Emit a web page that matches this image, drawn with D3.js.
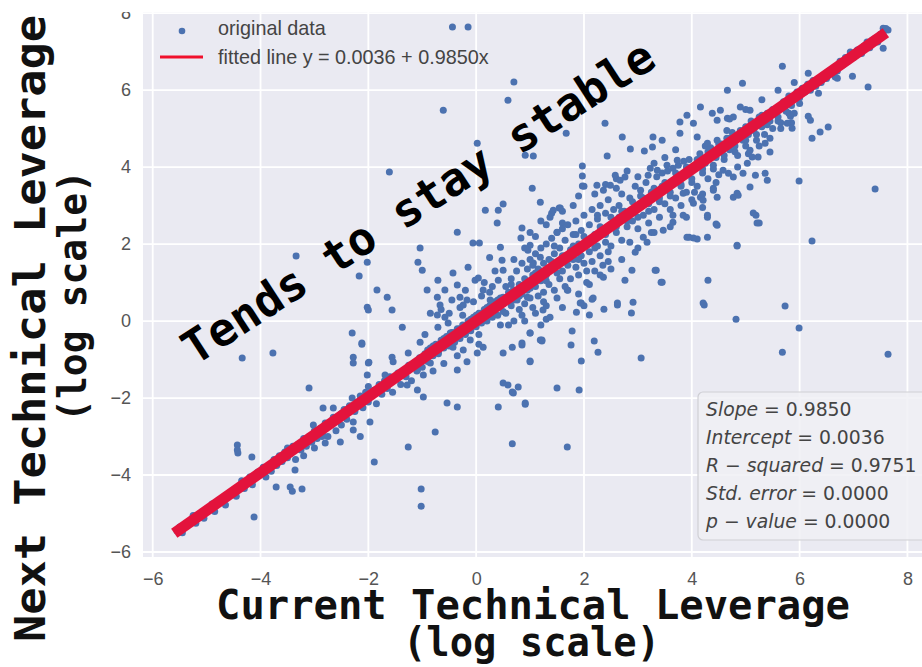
<!DOCTYPE html>
<html>
<head>
<meta charset="utf-8">
<script src="https://cdn.jsdelivr.net/npm/d3@7"></script>
<style>
  body { margin: 0; background: #fff; }
  svg { display: block; }
</style>
</head>
<body>
<div id="container"></div>
<script>
const w = 922;
const h = 667;

const xTicks = [-6, -4, -2, 0, 2, 4, 6, 8];
const yTicks = [-6, -4, -2, 0, 2, 4, 6, 8];

const fitIntercept = 0.0036;
const fitSlope = 0.9850;
const fitRange = [-5.6, 7.6];

const statNames = [["Slope"], ["Intercept"], ["R", "squared"], ["Std. error"], ["p", "value"]];
const statValues = ["0.9850", "0.0036", "0.9751", "0.0000", "0.0000"];

const legendLabels = ["original data", "fitted line y = 0.0036 + 0.9850x"];

// points scattered away from the main band
const outlierPoints = [
  [-0.44,7.64],[-0.15,7.64],[-0.61,5.48],[0.70,6.21],[0.59,5.74],[-1.61,3.87],[1.67,4.88],[2.39,5.14],
  [2.71,4.78],[0.91,4.31],[1.06,4.29],[0.02,4.62],[5.68,6.62],[4.66,6.0],[4.94,6.18],[7.27,6.08],
  [7.40,3.43],[6.53,5.04],[6.38,4.91],[6.23,4.75],[5.99,3.64],[1.97,4.03],[1.97,3.77],[1.97,3.51],
  [2.24,3.53],[2.43,4.29],[1.04,3.45],[6.23,2.08],[4.84,1.95],[5.19,2.75],[5.25,2.55],[4.45,2.52],
  [4.29,2.75],[3.95,2.18],[4.10,2.13],[4.29,2.18],[4.30,1.06],[3.34,1.32],[3.43,1.01],[4.23,0.42],
  [5.73,0.39],[4.82,0.05],[5.99,-0.18],[5.68,-0.81],[7.64,-0.86],[3.06,-0.96],[2.91,0.49],[2.88,0.21],
  [2.62,0.42],[2.37,0.31],[2.15,0.57],[1.95,0.47],[1.86,0.23],[2.10,0.16],[2.19,-0.52],[2.26,-0.81],
  [1.95,-1.04],[1.76,-0.62],[1.78,-0.26],[1.50,-1.74],[1.91,-1.79],[1.22,-0.52],[1.00,-0.31],[1.00,-1.04],
  [0.85,-0.62],[0.67,-0.68],[0.50,-0.83],[0.59,-1.66],[0.78,-1.71],[0.69,-1.87],[1.30,0.05],[0.41,-2.23],
  [0.91,-2.16],[0.67,-3.19],[1.69,-3.27],[-3.34,1.69],[-2.02,1.53],[-2.17,1.17],[-1.84,0.81],[-1.65,0.62],
  [-1.56,0.29],[-2.02,0.36],[-2.0,0.29],[-1.04,1.90],[-1.08,1.53],[-1.0,1.32],[-0.35,2.31],[-1.37,-0.16],
  [-2.30,-0.31],[-2.12,-0.60],[-2.28,-0.94],[-2.28,-1.09],[-2.0,-1.09],[-4.34,-0.96],[-3.77,-0.83],[-3.10,-1.74],
  [-4.43,-3.22],[-4.42,-3.43],[-4.43,-3.35],[-4.16,-3.53],[-4.12,-5.09],[-3.71,-4.31],[-3.45,-4.31],[-3.41,-4.42],
  [-3.23,-4.36],[-3.36,-3.87],[-1.89,-3.66],[-1.26,-3.27],[-0.76,-2.88],[-1.02,-4.36],[-1.02,-4.81],
  [-2.84,-2.26],[-2.65,-2.26],[-3.02,-2.7],[-2.86,-3.0],[-2.8,-3.17],[-2.52,-3.14],[-2.28,-2.62],[-2.28,-2.83],
  [-2.15,-3.0],[-1.97,-2.62]
];

// lower-left part of the band
const bandLow = [
  [-5.55,-5.45],[-5.5,-5.35],[-5.45,-5.5],[-5.4,-5.3],[-5.3,-5.2],[-5.25,-5.05],[-5.2,-5.25],[-5.1,-5.0],
  [-5.05,-5.12],[-4.95,-4.9],[-4.9,-4.75],[-4.85,-4.95],[-4.8,-4.7],[-4.7,-4.62],[-4.65,-4.78],[-4.6,-4.5],
  [-4.5,-4.42],[-4.45,-4.55],[-4.4,-4.3],[-4.35,-4.15],[-4.3,-4.35],[-4.25,-4.2],[-4.2,-4.05],[-4.15,-4.25],
  [-4.1,-4.0],[-4.05,-3.92],[-4.0,-3.9],[-3.95,-3.8],[-3.9,-4.05],[-3.85,-3.75],[-3.8,-3.9],[-3.75,-3.6],
  [-3.7,-3.75],[-3.65,-3.5],[-3.6,-3.65],[-3.55,-3.4],[-3.5,-3.55],[-3.5,-3.3],[-3.45,-3.45],[-3.4,-3.25],
  [-3.35,-3.6],[-3.3,-3.2],[-3.25,-3.35],[-3.2,-3.05],[-3.2,-3.5],[-3.15,-3.25],[-3.1,-3.0],[-3.05,-3.15],
  [-3.0,-2.85],[-3.0,-3.3],[-2.95,-3.05],[-2.9,-2.8],[-2.85,-2.95],[-2.8,-2.65],[-2.75,-3.0],[-2.7,-2.7],
  [-2.65,-2.5],[-2.6,-2.85],[-2.55,-2.55],[-2.5,-2.4],[-2.5,-2.7],[-2.45,-2.3],[-2.4,-2.55],[-2.35,-2.2],
  [-2.3,-2.0],[-2.25,-2.35],[-2.2,-2.1],[-2.15,-1.95],[-2.1,-2.25],[-2.05,-1.85],[-2.0,-2.1],[-2.0,-1.7],
  [-1.95,-1.95],[-1.9,-1.8],[-1.85,-2.15],[-1.8,-1.65],[-1.75,-1.9],[-1.7,-1.55],[-1.65,-1.75],[-1.6,-1.45],
  [-1.55,-1.85],[-1.5,-1.5],[-1.45,-1.35],[-1.4,-1.65],[-1.35,-1.3],[-1.3,-1.45],[-1.25,-1.15],[-1.2,-1.55],
  [-1.15,-1.1],[-1.1,-1.3],[-1.05,-0.95],[-1.0,-1.2],[-2.12,-0.57],[-1.99,-1.07],[-2.02,-1.40],[-1.69,-1.40],
  [-1.56,-0.94],[-1.54,-1.06],[-1.26,-0.83],[-1.47,-1.45],[-1.28,-1.66],[-1.09,-1.27],[-0.98,-1.40],[-0.85,-1.09],
  [-1.04,-0.55],[-1.09,-1.79],[-0.98,-1.97],[-0.54,-2.13],[-0.35,-2.23]
];

// middle part of the band, the widest spread
const bandMid = [
  [-0.95,-0.85],[-0.9,-1.05],[-0.85,-0.7],[-0.8,-0.9],[-0.75,-0.6],[-0.7,-0.85],[-0.65,-0.5],[-0.6,-0.7],
  [-0.55,-0.4],[-0.5,-0.65],[-0.45,-0.3],[-0.4,-0.55],[-0.35,-0.2],[-0.3,-0.45],[-0.25,-0.1],[-0.2,-0.35],
  [-0.15,0.0],[-0.1,-0.25],[-0.05,0.1],[0.0,-0.15],[0.05,0.2],[0.1,-0.05],[0.15,0.3],[0.2,0.0],
  [0.25,0.4],[0.3,0.1],[0.35,0.5],[0.4,0.15],[0.45,0.6],[0.5,0.25],[-0.5,0.2],[-0.3,0.35],
  [0.1,0.65],[0.3,0.9],[-0.2,0.8],[-0.71,1.06],[-0.91,0.81],[-0.58,0.81],[-0.72,0.62],[-0.67,0.42],
  [-0.35,0.94],[-0.43,1.25],[-0.72,0.16],[-0.58,0.10],[-0.71,-0.16],[-0.52,-0.05],[-0.48,-0.31],[-0.30,0.62],
  [-0.17,0.55],[-0.24,0.42],[-0.02,1.06],[0.04,1.12],[-0.06,2.03],[0.06,2.03],[0.17,2.88],[0.41,2.88],
  [0.50,3.04],[0.39,2.55],[0.45,1.92],[0.48,1.58],[0.50,1.32],[0.41,1.06],[0.13,0.81],[0.26,0.55],
  [0.20,0.29],[0.39,0.36],[0.50,0.62],[-0.43,-0.68],[-0.24,-0.75],[-0.17,-1.06],[0.02,-0.83],[0.13,-0.68],
  [-0.35,-1.27],[-0.11,-0.49],[0.50,-1.61],[0.67,-1.84],[0.85,-0.57],[1.0,-1.06],[0.91,-2.13],[1.22,-0.49],
  [1.0,1.97],[1.19,3.09],[1.54,2.94],[0.85,2.42],[0.83,2.16],[1.37,2.70],[0.96,1.84],[1.19,1.66],
  [1.06,1.51],[1.50,2.31],[1.60,2.55],[0.69,0.81],[0.76,0.55],[0.95,0.62],[1.0,-0.31],[1.19,-0.49],
  [1.24,0.29],[1.37,0.10],
  [0.55,0.9],[0.55,0.2],[0.6,0.55],[0.6,-0.1],[0.65,1.1],[0.65,0.4],[0.7,0.75],[0.7,0.0],
  [0.75,1.3],[0.75,0.6],[0.8,0.95],[0.8,0.3],[0.85,1.5],[0.85,0.7],[0.9,1.1],[0.9,0.45],
  [0.95,1.35],[0.95,0.8],[1.0,1.6],[1.0,0.6],[1.05,1.2],[1.05,0.35],[1.1,1.75],[1.1,0.9],
  [1.15,1.35],[1.15,0.65],[1.2,1.9],[1.2,1.05],[1.25,1.5],[1.25,0.75],[1.3,2.0],[1.3,1.2],
  [1.35,1.6],[1.35,0.95],[1.4,2.15],[1.4,1.35],[1.45,1.75],[1.45,0.8],[1.5,2.3],[1.5,1.5],
  [1.55,1.1],[1.55,1.9],[1.6,2.4],[1.6,1.3],[1.65,1.7],[1.65,2.1],[1.7,1.45],[1.7,2.5],
  [1.75,1.85],[1.75,1.1],[1.8,2.25],[1.8,1.6],[1.85,2.6],[1.85,1.4],[1.9,2.0],[1.9,1.2],
  [1.95,2.35],[1.95,1.7],[2.0,2.75],[2.0,1.5],[2.05,2.1],[2.05,1.0],[2.1,2.5],[2.1,1.8],
  [2.15,2.9],[2.15,1.55],[2.2,2.25],[2.2,1.3],[2.25,2.65],[2.25,1.95],[2.3,3.0],[2.3,1.7],
  [2.35,2.4],[2.35,1.45],[2.4,2.8],[2.4,2.05],[2.45,3.15],[2.45,1.8],[2.5,2.5],[2.5,1.95],
  [0.7,1.6],[0.9,1.9],[1.1,2.2],[1.3,2.5],[1.4,2.8],[1.2,2.6],[1.0,2.3],[1.6,2.85],
  [1.8,3.0],[1.9,3.25],[2.0,3.5],[2.2,3.3],[2.4,3.55],[2.6,3.45],[0.9,0.0],[1.1,0.2],
  [1.3,0.4],[1.5,0.6],[1.7,0.8],[1.9,0.7],[2.1,0.95],[2.3,1.2],[2.5,1.35],[1.2,-0.1],
  [1.6,0.35],[2.0,0.4],[1.43,2.88],[1.56,2.94],[2.36,1.14],[2.17,0.60],[1.93,0.47],[1.69,0.81]
];

// points lying close to the fitted line
const bandCore = [
  [-0.9,-0.75],[-0.8,-0.65],[-0.7,-0.8],[-0.6,-0.45],[-0.5,-0.55],[-0.4,-0.3],[-0.3,-0.2],[-0.2,-0.3],
  [-0.1,0.05],[0.0,0.15],[0.1,0.2],[0.2,0.35],[0.3,0.25],[0.4,0.55],[0.5,0.45],[0.6,0.75],
  [0.7,0.55],[0.8,0.65],[0.9,0.95],[1.0,0.85],[1.1,1.25],[1.2,1.3],[1.3,1.05],[1.4,1.55],
  [1.5,1.25],[1.6,1.7],[1.7,1.6],[1.8,1.95],[1.9,1.6],[2.0,2.2],[2.1,2.05],[2.2,1.9],
  [2.3,2.45],[2.4,2.25],[2.5,2.7],[2.6,2.45],[2.7,2.85],[2.8,2.6],[2.9,3.1],[3.0,2.7],
  [3.1,3.2],[3.2,2.85],[3.3,3.45],[3.4,3.1],[3.5,3.6],[3.6,3.25],[3.7,3.85],[3.8,3.55],
  [3.9,4.0],[4.0,3.6],[4.1,4.2],[4.2,3.95],[4.3,4.4],[4.4,4.05],[4.5,4.6],[4.6,4.2],
  [4.7,4.75],[4.8,4.4],[4.9,4.85],[5.0,4.7],[5.1,5.1],[5.2,4.85],[5.3,5.35],[5.4,5.1],
  [5.5,5.5],[5.6,5.2],[5.7,5.6],[5.8,5.4],[5.9,5.85],[6.0,5.65],
  [0.05,-0.35],[0.25,0.75],[0.45,-0.1],[0.65,0.95],[0.85,0.15],[1.05,1.45],[1.25,0.5],[1.45,1.95],
  [1.65,0.9],[1.85,2.25],[2.05,1.3],[2.25,2.75],[2.45,1.55],[2.65,3.0],[2.85,2.05],[3.05,3.4],
  [3.25,2.3],[3.45,3.85],[3.65,2.75],[3.85,4.15],[4.05,3.35],[4.25,4.55],[4.45,3.6],[4.65,4.95],
  [4.85,4.0],[5.05,4.35],[5.25,4.55],[5.45,4.75],[5.65,5.0],[5.85,5.15],
  [-0.95,-0.35],[-0.85,0.2],[-0.65,0.3],[-0.45,0.55],[-0.25,0.15],[-0.05,0.5],[0.15,1.0],[0.35,1.3],
  [-0.15,1.4],[0.25,1.65],[0.05,-0.6],[-0.35,-0.9],[-0.6,-1.1],[-0.8,-1.3]
];

// upper part of the band
const bandHigh = [
  [2.55,2.9],[2.6,2.3],[2.65,2.7],[2.7,3.3],[2.7,2.1],[2.75,2.85],[2.8,2.45],[2.85,3.2],
  [2.9,2.6],[2.95,3.5],[3.0,2.95],[3.0,2.4],[3.05,3.25],[3.1,2.75],[3.15,3.6],[3.2,3.05],
  [3.2,2.55],[3.25,3.35],[3.3,2.9],[3.35,3.75],[3.4,3.2],[3.4,2.7],[3.45,3.5],[3.5,3.05],
  [3.55,3.9],[3.6,3.35],[3.6,2.9],[3.65,3.65],[3.7,3.2],[3.75,4.05],[3.8,3.5],[3.8,3.0],
  [3.85,3.8],[3.9,3.35],[3.95,4.2],[4.0,3.7],[4.0,3.15],[4.05,3.95],[4.1,3.5],[4.15,4.35],
  [4.2,3.85],[4.2,3.3],[4.25,4.1],[4.3,3.7],[4.35,4.5],[4.4,3.95],[4.4,3.45],[4.45,4.25],
  [4.5,3.8],[2.6,3.7],[2.8,3.9],[3.0,3.75],[3.3,4.1],[3.5,4.25],[3.7,4.45],[2.7,1.6],
  [3.0,1.9],[3.3,2.3],[3.6,2.45],[3.9,2.7],[4.2,2.95],[2.86,4.47],[3.12,4.42],[3.27,4.52],
  [3.28,4.78],[3.45,4.70],[3.78,5.17],[3.91,5.35],[4.03,5.14],[3.78,4.88],[4.16,5.56],[4.38,5.40],
  [4.53,5.48],[4.90,5.56],[5.08,5.48],[4.66,5.27],[4.10,4.78],[4.29,4.62],[4.47,4.70],[2.58,3.79],
  [2.67,3.66],[2.76,3.74],[2.36,3.40],[2.49,3.53],[3.23,3.97],[3.36,3.92],[3.19,3.79],[3.54,4.05],
  [3.65,3.97],[3.73,4.18],[4.29,2.70],[4.47,2.49],[4.84,1.97],[4.03,2.16],[3.91,2.18],[3.47,2.36],
  [3.65,2.57],[3.84,2.75],[3.32,1.32],[3.45,1.01],[2.76,1.06],[2.89,1.32],[2.62,0.47],[4.21,0.47],
  [2.95,1.79],[3.17,2.05],[3.10,2.18],[3.84,3.32],[4.16,3.22],[4.47,3.22],[4.77,3.22],[4.84,3.32],
  [5.08,3.48],[5.14,2.81],[5.21,2.55],[6.16,6.44],[6.98,6.36],[5.83,5.32],[5.77,5.14],[5.86,5.01],
  [6.16,5.32],[6.20,5.22],[5.36,4.62],[5.45,4.39],[5.23,4.26],[5.08,4.44],[5.12,4.26],[5.03,4.10],
  [4.95,3.84],[5.18,3.79],[5.36,3.84],[5.40,3.66],[4.77,3.74],[4.68,3.84],[4.58,3.92],[4.86,3.27],
  [4.40,3.40],[4.21,3.14],[4.03,3.06],[4.47,5.22],[4.77,5.30],
  [4.55,4.6],[4.6,4.3],[4.65,4.75],[4.7,4.45],[4.75,4.9],[4.8,4.55],[4.85,4.3],[4.9,4.95],
  [4.95,4.7],[5.0,5.05],[5.0,4.55],[5.05,4.85],[5.1,5.2],[5.15,4.95],[5.2,4.7],[5.25,5.3],
  [5.3,5.05],[5.35,4.85],[5.4,5.4],[5.45,5.2],[5.5,5.0],[5.55,5.5],[5.6,5.3],[5.65,5.15],
  [5.7,5.7],[5.75,5.45],[5.8,5.85],[5.85,5.6],[5.9,5.4],[5.95,5.95],[4.7,5.25],[5.0,5.5],
  [5.3,5.75],[5.6,6.0],[5.9,6.2],
  [6.0,5.8],[6.05,6.05],[6.1,5.95],[6.15,6.15],[6.2,6.0],[6.25,6.25],[6.3,6.1],[6.35,6.3],
  [6.4,6.2],[6.45,6.4],[6.5,6.3],[6.55,6.5],[6.6,6.45],[6.65,6.6],[6.7,6.5],[6.75,6.75],
  [6.8,6.65],[6.85,6.85],[6.9,6.75],[6.95,6.95],[7.0,6.85],[7.05,7.0],[7.1,7.05],[7.15,6.95],
  [7.2,7.15],[7.25,7.25],[7.3,7.1],[7.35,7.3],[7.4,7.35],[7.45,7.25],[7.5,7.45],[7.55,7.5],
  [7.6,7.6],[6.94,6.99],[7.07,7.04],[7.31,7.25],[7.55,7.61],[7.64,7.56],[7.55,7.09],[6.66,6.34],
  [6.70,6.31],[6.35,5.92]
];

const allPoints = outlierPoints.concat(bandLow, bandMid, bandCore, bandHigh);

const svg = d3.select("#container").append("svg")
  .attr("width", w).attr("height", h);

const plotLeft = 143, plotRight = 922, plotTop = 12, plotBottom = 557;

const x = d3.scaleLinear().domain([-6.18, 8.27]).range([plotLeft, plotRight]);
const y = d3.scaleLinear().domain([-6.13, 8.03]).range([plotBottom, plotTop]);

svg.append("defs").append("clipPath").attr("id", "plotclip")
  .append("rect").attr("x", plotLeft).attr("y", plotTop)
  .attr("width", plotRight - plotLeft).attr("height", plotBottom - plotTop);

svg.append("rect")
  .attr("x", plotLeft).attr("y", plotTop)
  .attr("width", plotRight - plotLeft).attr("height", plotBottom - plotTop)
  .attr("fill", "#eaeaf2");

// white grid
svg.append("g").selectAll("line").data(xTicks).enter().append("line")
  .attr("x1", d => x(d)).attr("x2", d => x(d))
  .attr("y1", plotTop).attr("y2", plotBottom)
  .attr("stroke", "#fff").attr("stroke-width", 1.8);
svg.append("g").selectAll("line").data(yTicks).enter().append("line")
  .attr("y1", d => y(d)).attr("y2", d => y(d))
  .attr("x1", plotLeft).attr("x2", plotRight)
  .attr("stroke", "#fff").attr("stroke-width", 1.8);

const xAxis = d3.axisBottom(x).tickValues(xTicks).tickSize(0).tickPadding(15);
const yAxis = d3.axisLeft(y).tickValues(yTicks).tickSize(0).tickPadding(12);

svg.append("g").attr("transform", "translate(0," + plotBottom + ")").call(xAxis)
  .call(g => g.select(".domain").remove())
  .selectAll("text").attr("font-family", "Liberation Sans, Arial, sans-serif")
  .attr("font-size", 18).attr("fill", "#555");
svg.append("g").attr("transform", "translate(" + plotLeft + ",0)").call(yAxis)
  .call(g => g.select(".domain").remove())
  .selectAll("text").attr("font-family", "Liberation Sans, Arial, sans-serif")
  .attr("font-size", 18).attr("fill", "#555");

const plot = svg.append("g").attr("clip-path", "url(#plotclip)");

plot.selectAll("circle").data(allPoints).enter().append("circle")
  .attr("cx", d => x(d[0]))
  .attr("cy", d => y(d[1]))
  .attr("r", 3.5)
  .attr("fill", "#4c72b0");

plot.append("line")
  .attr("x1", x(fitRange[0])).attr("y1", y(fitIntercept + fitSlope * fitRange[0]))
  .attr("x2", x(fitRange[1])).attr("y2", y(fitIntercept + fitSlope * fitRange[1]))
  .attr("stroke", "#e3133c").attr("stroke-width", 11);

// legend
const legend = svg.append("g").attr("font-family", "Liberation Sans, Arial, sans-serif")
  .attr("font-size", 19.8).attr("fill", "#444");
legend.append("circle").attr("cx", 182).attr("cy", 31).attr("r", 3.3).attr("fill", "#4c72b0");
legend.append("line").attr("x1", 160).attr("x2", 203).attr("y1", 57).attr("y2", 57)
  .attr("stroke", "#f0102c").attr("stroke-width", 3);
legend.selectAll("text").data(legendLabels).enter().append("text")
  .attr("x", 218).attr("y", (d, i) => 28 + i * 29)
  .attr("dy", "0.35em")
  .text(d => d);

// stats box
const box = svg.append("g");
box.append("rect")
  .attr("x", 698).attr("y", 392).attr("width", 232).attr("height", 148)
  .attr("rx", 5)
  .attr("fill", "#f0f0f4").attr("fill-opacity", 0.85)
  .attr("stroke", "#cfcfd4").attr("stroke-width", 1.2);
const statText = box.selectAll("text").data(statNames).enter().append("text")
  .attr("x", 706).attr("y", (d, i) => 416 + i * 28)
  .attr("font-family", "DejaVu Sans, sans-serif")
  .attr("font-size", 18.8).attr("fill", "#444");
statText.each(function (d, i) {
  const t = d3.select(this);
  d.forEach((part, j) => {
    if (j > 0) t.append("tspan").text(" \u2212 ");
    t.append("tspan").attr("font-style", "italic").text(part);
  });
  t.append("tspan").text(" = " + statValues[i]);
});

// axis titles
const mono = "DejaVu Sans Mono, Liberation Mono, monospace";
svg.append("text").attr("x", 216).attr("y", 619)
  .attr("font-family", mono).attr("font-weight", "bold").attr("font-size", 40)
  .attr("textLength", 634).attr("lengthAdjust", "spacingAndGlyphs")
  .attr("fill", "#111").text("Current Technical Leverage");
svg.append("text").attr("x", 403).attr("y", 656)
  .attr("font-family", mono).attr("font-weight", "bold").attr("font-size", 40)
  .attr("textLength", 257).attr("lengthAdjust", "spacingAndGlyphs")
  .attr("fill", "#111").text("(log scale)");
svg.append("text").attr("transform", "translate(45,642) rotate(-90)")
  .attr("font-family", mono).attr("font-weight", "bold").attr("font-size", 43)
  .attr("textLength", 627).attr("lengthAdjust", "spacingAndGlyphs")
  .attr("fill", "#111").text("Next Technical Leverage");
svg.append("text").attr("transform", "translate(86,422) rotate(-90)")
  .attr("font-family", mono).attr("font-weight", "bold").attr("font-size", 39)
  .attr("textLength", 252).attr("lengthAdjust", "spacingAndGlyphs")
  .attr("fill", "#111").text("(log scale)");

// annotation
svg.append("text").attr("transform", "translate(195,366) rotate(-33)")
  .attr("font-family", mono).attr("font-weight", "bold").attr("font-size", 46)
  .attr("textLength", 553).attr("lengthAdjust", "spacingAndGlyphs")
  .attr("fill", "#000").text("Tends to stay stable");

// the picture is cut off at the top
svg.append("rect").attr("x", 100).attr("y", 0).attr("width", w - 100).attr("height", plotTop)
  .attr("fill", "#fff");
</script>
</body>
</html>
